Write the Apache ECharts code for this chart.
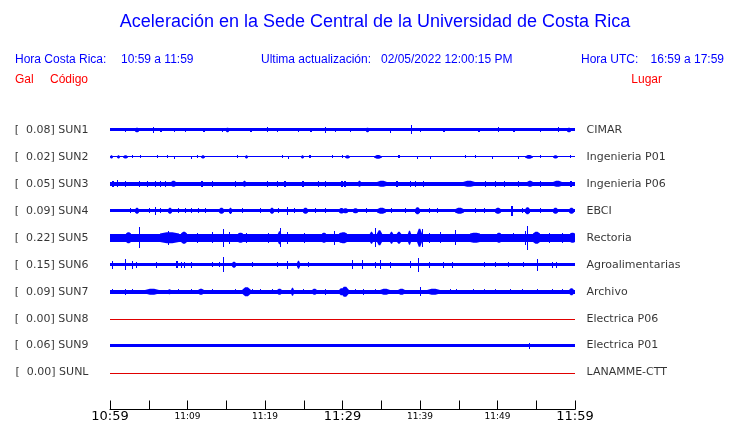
<!DOCTYPE html>
<html>
<head>
<meta charset="utf-8">
<script src="https://cdn.jsdelivr.net/npm/echarts@6/dist/echarts.min.js"></script>
<style>
html,body{margin:0;padding:0;background:#fff;}
#chart{width:740px;height:423px;}
</style>
</head>
<body>
<div id="chart"></div>
<script>
// ---- DATA ----
const codes  = ['SUN1','SUN2','SUN3','SUN4','SUN5','SUN6','SUN7','SUN8','SUN9','SUNL'];
const peaks  = ['0.08','0.02','0.05','0.09','0.22','0.15','0.09','0.00','0.06','0.00'];
const places = ['CIMAR','Ingenieria P01','Ingenieria P06','EBCI','Rectoria','Agroalimentarias','Archivo','Electrica P06','Electrica P01','LANAMME-CTT'];
// minutes after 10:59 for the x axis, labels every 10 minutes
const tickLabels = ['10:59','11:09','11:19','11:29','11:39','11:49','11:59'];
// background (noise) half-amplitude of each trace, in trace units
const baseHalf = [1.6, 0.5, 1.9, 1.7, 4.2, 1.7, 1.8, 0, 1.6, 0];
// bursts: [minute, duration (min), half-amplitude]
const sun1 = [[1.9,0,2.2],[3.2,0.5,2.2],[5.5,0,2.8],[6.5,0.3,2.2],[8.3,0,2.2],[9.7,0,2.2],[12.0,0.3,2.2],[14.4,0,2.2],[15.0,0.4,2.2],[18.0,0.3,2.2],[20.2,0,2.5],[21.5,0,2.2],[24.3,0,2.2],[25.8,0.3,2.2],[27.7,0,3.2],[29,0,2.2],[31.0,0,2.2],[33.0,0.4,2.2],[36.1,0,2.4],[38.9,0,4.7],[40.0,0,2.2],[43.0,0.3,2.2],[47.5,0.3,2.2],[50.1,0,2.7],[52.0,0.3,2.2],[55.5,0,2.2],[57.8,0,2.5],[59.0,0.5,2.2]];
const sun2 = [[0,0.4,1.7],[0.9,0.4,1.7],[1.7,0.6,1.7],[2.9,0,1.5],[3.9,0,1.5],[6.1,0,1.5],[7.4,0,1.5],[8.3,0,1.3],[10.5,0,1.3],[11.2,0,1.5],[11.8,0.5,1.7],[16.4,0,1.5],[17.4,0.4,1.7],[22.2,0,1.5],[23.0,0,1.3],[24.6,0.4,1.7],[25.7,0.2,1.5],[28.6,0,1.5],[29.9,0,1.5],[30.3,0.6,1.7],[34.0,1.0,1.8],[37.1,0.3,1.7],[39.6,0,1.3],[41.3,0,1.3],[45.8,0,1.5],[47.1,0,1.5],[49.3,0,1.3],[52.6,0,1.3],[53.5,1.0,1.8],[55.5,0,1.5],[57.2,0.6,1.7],[59.4,0,1.5]];
const sun3 = [[0.2,0.2,3],[0.9,0,3.5],[1.9,0,3],[3.7,0,2.8],[4.8,0,2.8],[5.8,0,3],[6.4,0,2.8],[7.1,0,2.8],[7.9,0.7,3],[11.8,0.3,3],[13.1,0,3],[16.1,0,2.8],[17.2,0.4,3],[20.2,0,2.8],[21.5,0,3],[22.4,0.3,2.8],[24.8,0.3,3],[26.8,0,2.8],[27.7,0,3],[29.8,0.3,3],[30.2,0.3,3],[32.0,0.4,3],[34.4,1.3,3],[36.9,0.3,3.2],[38.7,0,2.8],[39.4,0,2.8],[40.4,0,3],[45.6,1.5,3],[48.4,0,2.8],[49.7,0,3],[50.8,0,3],[52.7,0,2.8],[53.8,0.8,3],[55.5,0,3],[57.2,1.1,3],[59.4,0.3,3]];
const sun4 = [[2.6,0,2.5],[3.2,0.5,3],[5.0,0,2.5],[5.8,0,4],[6.5,0,2.5],[7.5,0.5,3],[8.8,0,2.5],[9.7,0,2.5],[10.5,0,2.5],[11.4,0,2.5],[12.3,0,2.5],[14.0,0.6,3],[15.3,0.4,3.2],[17.0,0,2.5],[19.4,0,2.5],[20.6,0.5,3],[21.7,0,2.5],[22.8,0,4],[23.8,0,2.5],[24.9,0.7,3],[26.4,0,2.5],[27.7,0,2.5],[29.5,0.6,2.8],[30.0,0.6,2.5],[31.4,0.6,2.5],[33.0,0,2.5],[34.4,1.2,3],[36.3,0,2.5],[38.1,0,2.5],[39.4,0.7,3.5],[41.1,0,2.5],[42.2,0,2.5],[44.5,1.2,3],[47.1,0,2.5],[48.2,0,2.5],[49.7,0.8,3],[51.8,0.3,5],[53.1,0,2.5],[53.5,0.6,3.5],[55.5,0,2.5],[57.2,0.6,3],[59.2,0.6,3]];
const sun5 = [[2.0,0.6,5.5],[3.8,0,10.3],[6.4,2.4,5.5],[7.5,0,7],[9.2,0.8,6],[11.2,0,5],[13.2,0,5.5],[14.6,0,9],[15.3,0,6],[16.5,0.6,5],[17.6,0,5],[20.4,0,5],[21.7,0.4,6.5],[21.9,0,9.5],[22.8,0,6],[25.0,0,5],[27.4,0.5,5],[28.9,0,7],[29.6,0.5,5],[29.7,0.9,5.5],[33.6,0.4,6],[34.2,0,9.5],[34.4,0.7,7.5],[36.1,0.4,6],[37.0,0.5,6],[38.5,0.4,7],[39.6,0.6,9],[40.2,0,9],[41.1,0,5],[42.6,0,5.5],[44.5,0,7.5],[46.5,1.3,5],[49.9,0.5,5],[52.0,0,4.5],[53.5,0,7],[53.8,0,12],[54.6,0.9,6],[56.6,0,5],[58.3,0,5],[59.4,0.6,5]];
const sun6 = [[0.2,0,4],[1.9,0,5.5],[2.8,0,4],[3.3,0,3],[5.9,0,3],[8.5,0.3,3.5],[9.1,0,3],[9.6,0,3],[10.5,0,3],[13.1,0,2.5],[14.0,0,2.5],[14.6,0,7.5],[15.7,0.5,3],[18.3,0,2.5],[21.5,0,2.5],[22.8,0,4],[24.1,0.4,4],[25.6,0,2.5],[31.2,0,4.5],[32.5,0,4.5],[34.2,0,3],[34.8,0,4.5],[36.1,0,3],[38.7,0,3.5],[39.8,0,7],[41.1,0,3],[43.0,0,3],[44.1,0,3],[48.2,0,2.5],[49.7,0,2.5],[51.4,0,2.5],[53.3,0,2.5],[55.1,0,6],[57.0,0,3],[57.6,0,3]];
const sun7 = [[0.2,0,2.5],[1.9,0,3],[2.8,0,2.5],[4.5,1.8,3],[7.5,0.4,2.5],[8.8,0,2.5],[10.5,0,2.5],[11.4,0.8,3],[13.1,0,2.5],[16.1,0,2.5],[17.0,1.1,4.5],[18.3,0,2.5],[19.4,0,2.5],[20.9,0,2.5],[21.5,0.7,3],[23.4,0.4,4],[24.9,0,2.5],[26.0,0.7,3],[27.7,0,3],[29.5,0.6,3.5],[29.8,1.0,5],[31.6,0,2.5],[32.7,0,3],[34.2,0,2.5],[34.8,1.3,3],[37.2,0.9,3],[40.0,0,4.5],[40.9,1.7,3],[43.9,0,2.5],[44.7,0,2.5],[46.9,0,2.5],[48.2,0,2.5],[49.7,0,2.5],[51.6,0,2.5],[53.1,0,2.5],[55.1,0,2.5],[57.0,0,2.5],[58.3,0,2.5],[59.2,0.6,3.5]];
const sun8 = [];
const sun9 = [[54.0,0,3]];
const sunL = [];
const bursts = [sun1, sun2, sun3, sun4, sun5, sun6, sun7, sun8, sun9, sunL];

// ---- LAYOUT / STYLE ----
const ROW = 27;             // vertical spacing between traces (y units)
const SPAN = 60;            // minutes shown
const BLUE = '#0000ff', RED = '#e00000';
const labelFont = 'DejaVu Sans';
const headFont = '"Liberation Sans", Arial, sans-serif';

function traceColor(i){ return peaks[i] === '0.00' ? RED : BLUE; }

// each item: [t0, t1, halfAmp, rowCenter, baseHalf]
function renderTrace(params, api){
  const t0 = api.value(0), t1 = api.value(1), a = api.value(2), c = api.value(3), b = api.value(4);
  const pL = api.coord([t0, c]);
  const pR = api.coord([t1, c]);
  const pT = api.coord([t0, c - a]);
  const pB = api.coord([t0, c - b]);
  const x0 = Math.round(pL[0]);
  const w = Math.max(1, Math.round(pR[0] - pL[0]));
  const hpx = Math.abs(pL[1] - pT[1]);
  const bpx = Math.abs(pL[1] - pB[1]);
  const cy = pL[1];
  const color = api.visual('color');
  if (w <= 2 || b === a) {
    const h = Math.max(1, Math.round(2 * hpx));
    const y = Math.round(cy - hpx);
    return { type: 'rect', shape: { x: x0, y: y, width: w, height: h }, style: { fill: color } };
  }
  // burst spindle: swells from the noise band up to the peak and back
  const xm = x0 + w / 2;
  return { type: 'polygon', shape: { points: [
      [x0, cy - bpx], [xm - w * 0.15, cy - hpx], [xm + w * 0.15, cy - hpx], [x0 + w, cy - bpx],
      [x0 + w, cy + bpx], [xm + w * 0.15, cy + hpx], [xm - w * 0.15, cy + hpx], [x0, cy + bpx]
    ] }, style: { fill: color } };
}

const series = [];
codes.forEach(function(code, i){
  const c = ROW * (i + 1);
  const data = [[0, SPAN, baseHalf[i], c, baseHalf[i]]];
  bursts[i].forEach(function(b){ data.push([b[0], b[0] + b[1], b[2], c, baseHalf[i]]); });
  series.push({
    type: 'custom', name: code, renderItem: renderTrace, data: data,
    itemStyle: { color: traceColor(i) }, encode: { x: [0, 1], y: 3 },
    clip: true, silent: true, animation: false
  });
});
// station labels (left: peak + code, right: place)
series.push({
  type: 'scatter', symbolSize: 1, itemStyle: { color: 'rgba(0,0,0,0)' }, silent: true, animation: false,
  data: codes.map(function(code, i){ return { value: [0, ROW * (i + 1)], name: '[  ' + peaks[i] + '] ' + code }; }),
  label: { show: true, position: 'left', distance: 21, formatter: '{b}', color: '#000', fontFamily: labelFont, fontSize: 11 }
});
series.push({
  type: 'scatter', symbolSize: 1, itemStyle: { color: 'rgba(0,0,0,0)' }, silent: true, animation: false,
  data: places.map(function(p, i){ return { value: [SPAN, ROW * (i + 1)], name: p }; }),
  label: { show: true, position: 'right', distance: 11, formatter: '{b}', color: '#000', fontFamily: labelFont, fontSize: 11 }
});

const chart = echarts.init(document.getElementById('chart'), null, { renderer: 'canvas' });
chart.setOption({
  backgroundColor: '#fff',
  animation: false,
  grid: { left: 110, right: 165, top: 103, bottom: 13, containLabel: false },
  xAxis: {
    type: 'value', min: 0, max: SPAN, interval: 5, position: 'bottom',
    axisLine: { show: true, onZero: false, lineStyle: { color: '#000', width: 1 } },
    axisTick: { show: true, inside: true, length: 9, lineStyle: { color: '#000', width: 1 } },
    splitLine: { show: false },
    axisLabel: {
      show: true, margin: 7, verticalAlign: 'middle', showMinLabel: true, showMaxLabel: true,
      formatter: function(v){
        if (v % 10 !== 0) return '';
        const s = tickLabels[v / 10];
        return v % 30 === 0 ? '{big|' + s + '}' : '{small|' + s + '}';
      },
      rich: {
        big: { fontSize: 13, fontFamily: labelFont, color: '#000' },
        small: { fontSize: 9, fontFamily: labelFont, color: '#000' }
      }
    }
  },
  yAxis: { type: 'value', min: 0, max: 307, inverse: true, show: false },
  graphic: [
    { type: 'text', x: 375, y: 22, style: { text: 'Aceleración en la Sede Central de la Universidad de Costa Rica', font: '18px ' + headFont, fill: BLUE, textAlign: 'center', textVerticalAlign: 'middle' } },
    { type: 'text', x: 15, y: 60, style: { text: 'Hora Costa Rica:', font: '12px ' + headFont, fill: BLUE, textVerticalAlign: 'middle' } },
    { type: 'text', x: 121, y: 60, style: { text: '10:59 a 11:59', font: '12px ' + headFont, fill: BLUE, textVerticalAlign: 'middle' } },
    { type: 'text', x: 261, y: 60, style: { text: 'Ultima actualización:', font: '12px ' + headFont, fill: BLUE, textVerticalAlign: 'middle' } },
    { type: 'text', x: 381, y: 60, style: { text: '02/05/2022 12:00:15 PM', font: '12px ' + headFont, fill: BLUE, textVerticalAlign: 'middle' } },
    { type: 'text', x: 581, y: 60, style: { text: 'Hora UTC:', font: '12px ' + headFont, fill: BLUE, textVerticalAlign: 'middle' } },
    { type: 'text', x: 724, y: 60, style: { text: '16:59 a 17:59', font: '12px ' + headFont, fill: BLUE, textAlign: 'right', textVerticalAlign: 'middle' } },
    { type: 'text', x: 15, y: 80, style: { text: 'Gal', font: '12px ' + headFont, fill: '#ff0000', textVerticalAlign: 'middle' } },
    { type: 'text', x: 50, y: 80, style: { text: 'Código', font: '12px ' + headFont, fill: '#ff0000', textVerticalAlign: 'middle' } },
    { type: 'text', x: 662, y: 80, style: { text: 'Lugar', font: '12px ' + headFont, fill: '#ff0000', textAlign: 'right', textVerticalAlign: 'middle' } }
  ],
  series: series
});
</script>
</body>
</html>
